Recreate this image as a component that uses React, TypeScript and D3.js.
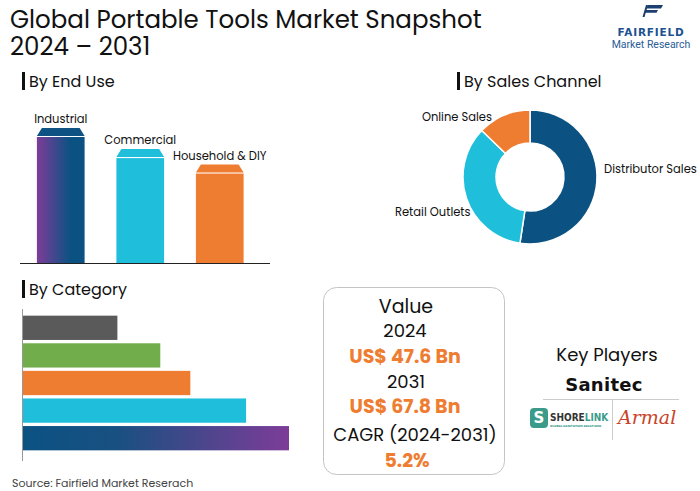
import React from "react";
import * as d3 from "d3";

const endUseCats = ["Industrial", "Commercial", "Household & DIY"];
const endUseValues = [48, 40.5, 35];
const endUseColors = ["url(#gradInd)", "#1fbfdc", "#ee7d31"];
const endUseCapColors = ["#0d5282", "#1fbfdc", "#ee7d31"];

const channelCats = ["Distributor Sales", "Retail Outlets", "Online Sales"];
const channelValues = [52.4, 34.8, 12.8];
const channelColors = ["#0b5283", "#1fbfdc", "#ee7d31"];

const categoryValues = [22, 32, 39, 52, 62];
const categoryColors = ["#5a5a5a", "#72ad4c", "#ee7d31", "#1fbfdc", "url(#gradCat)"];

const titleLines = ["Global Portable Tools Market Snapshot", "2024 – 2031"];

const valueLines = [
  { text: "Value", kind: "label" },
  { text: "2024", kind: "label" },
  { text: "US$ 47.6 Bn", kind: "value" },
  { text: "2031", kind: "label" },
  { text: "US$ 67.8 Bn", kind: "value" },
  { text: "CAGR (2024-2031)", kind: "label" },
  { text: "5.2%", kind: "value" },
];

const FONT = "Poppins, Inter, 'Open Sans', sans-serif";

export default function App() {
  // End use bars
  const xEU = d3.scaleBand<string>().domain(endUseCats).range([21, 259.5]).paddingInner(0.4).paddingOuter(0.2);
  const yEU = d3.scaleLinear().domain([0, 48]).range([263, 128]);
  const capH = 8;
  const inset = 5;

  // donut
  const pie = d3.pie<number>().sort(null).startAngle(0).endAngle(2 * Math.PI);
  const arcs = pie(channelValues);
  const arcGen = d3.arc<d3.PieArcDatum<number>>().innerRadius(34).outerRadius(67);
  const cx = 530, cy = 177;
  const labelPos = [
    { x: 604, y: 173, anchor: "start" },
    { x: 395, y: 216, anchor: "start" },
    { x: 492, y: 121, anchor: "end" },
  ];

  // category bars
  const yCat = d3.scaleBand<number>().domain(d3.range(categoryValues.length)).range([314, 452]).paddingInner(0.12).paddingOuter(0.06);
  const xCat = d3.scaleLinear().domain([0, 62]).range([23, 289]);

  const valueY = [313, 337, 363, 388, 413, 441, 467];
  const valueX = [406, 405, 405, 406, 405, 415, 407];
  const valueSize = [19, 18, 19, 18, 19, 18, 19];

  return (
    <svg width={700} height={491} style={{ position: "absolute", left: 0, top: 0, background: "#fff" }} fontFamily={FONT}>
      <defs>
        <linearGradient id="gradInd" x1="0" x2="1" y1="0" y2="0">
          <stop offset="0" stopColor="#7d3c98" />
          <stop offset="0.7" stopColor="#0b5283" />
          <stop offset="1" stopColor="#0b5283" />
        </linearGradient>
        <linearGradient id="gradCat" x1="0" x2="1" y1="0" y2="0">
          <stop offset="0" stopColor="#0b5283" />
          <stop offset="0.35" stopColor="#185081" />
          <stop offset="1" stopColor="#7d3c98" />
        </linearGradient>
      </defs>
      <rect x={0} y={0} width={700} height={491} fill="#fff" />

      {/* Title */}
      <text fontSize={24.5} fill="#111">
        {titleLines.map((t, i) => (
          <tspan key={i} x={10} y={28 + i * 27}>{t}</tspan>
        ))}
      </text>

      {/* Logo */}
      <g fill="#1b3f6e">
        <path d="M648,5 L663,5 L661,8.5 L646,8.5 Z" />
        <path d="M645.5,10 L658,10 L656.5,12.8 L644.5,12.8 Z" />
        <path d="M646,5 L648,5 L644.5,17 L642.5,17 Z" />
      </g>
      <text x={651} y={36} fontSize={10.5} fontWeight={700} fill="#1d5190" textAnchor="middle" letterSpacing={0.8} fontFamily="'DejaVu Sans', sans-serif">FAIRFIELD</text>
      <text x={651} y={47.5} fontSize={10.5} fill="#2a5d95" textAnchor="middle" fontFamily="Roboto, sans-serif">Market Research</text>

      {/* Section headers */}
      <rect x={22} y={72} width={3} height={18} fill="#111" />
      <text x={29} y={87} fontSize={16} fill="#111">By End Use</text>
      <rect x={457} y={72} width={3} height={18} fill="#111" />
      <text x={464} y={87} fontSize={16} fill="#111">By Sales Channel</text>
      <rect x={22} y={280} width={3} height={18} fill="#111" />
      <text x={29} y={295} fontSize={16} fill="#111">By Category</text>

      {/* End use bars */}
      {endUseCats.map((c, i) => {
        const x0 = xEU(c)!;
        const w = xEU.bandwidth();
        const top = yEU(endUseValues[i]);
        const bodyTop = top + capH + 1;
        return (
          <g key={c}>
            <rect x={x0} y={bodyTop} width={w} height={263 - bodyTop} fill={endUseColors[i]} />
            <path d={`M${x0},${top + capH} L${x0 + inset},${top} L${x0 + w - inset},${top} L${x0 + w},${top + capH} Z`} fill={endUseCapColors[i]} />
            <text x={x0 + w / 2} y={top - 5} fontSize={11.5} textAnchor="middle" fill="#111">{c}</text>
          </g>
        );
      })}
      <line x1={20} x2={270} y1={263.5} y2={263.5} stroke="#222" strokeWidth={1} />

      {/* Donut */}
      <g transform={`translate(${cx},${cy})`}>
        {arcs.map((a, i) => (
          <path key={i} d={arcGen(a)!} fill={channelColors[i]} stroke="#fff" strokeWidth={1.5} />
        ))}
      </g>
      {channelCats.map((c, i) => (
        <text key={c} x={labelPos[i].x} y={labelPos[i].y} fontSize={11.5} textAnchor={labelPos[i].anchor as any} fill="#111">{c}</text>
      ))}

      {/* Category bars */}
      <line x1={22.5} x2={22.5} y1={309} y2={461} stroke="#999" strokeWidth={1} />
      {categoryValues.map((v, i) => (
        <rect key={i} x={xCat(0)} y={yCat(i)!} width={xCat(v) - xCat(0)} height={yCat.bandwidth()} fill={categoryColors[i]} />
      ))}

      <text x={12} y={487} fontSize={11} fill="#444">Source: Fairfield Market Reserach</text>

      {/* Value box */}
      <rect x={323.5} y={287.5} width={181} height={187} rx={13} fill="none" stroke="#c4c4c4" strokeWidth={1} />
      {valueLines.map((l, i) => (
        <text key={i} x={valueX[i]} y={valueY[i]} fontSize={valueSize[i]} textAnchor="middle"
          fontWeight={l.kind === "value" ? 700 : 400} fill={l.kind === "value" ? "#ee7d31" : "#111"}>{l.text}</text>
      ))}

      {/* Key players */}
      <text x={607} y={361} fontSize={18} textAnchor="middle" fill="#111">Key Players</text>
      <text x={604} y={391} fontSize={18} fontWeight={800} textAnchor="middle" fill="#111" fontFamily="'DejaVu Sans', sans-serif" letterSpacing={0.3}>Sanitec</text>
      <line x1={543} x2={679} y1={399.5} y2={399.5} stroke="#ccc" strokeWidth={1} />
      <line x1={612.5} x2={612.5} y1={399} y2={440} stroke="#ccc" strokeWidth={1} />
      <rect x={530} y={408} width={18} height={20} rx={4} fill="#3b9b8b" />
      <text x={539} y={423} fontSize={15} fontWeight={800} textAnchor="middle" fill="#fff" fontFamily="'DejaVu Sans', sans-serif">S</text>
      <text x={550} y={421} fontSize={10} fontWeight={800} fill="#333" fontFamily="'Liberation Sans Narrow', 'DejaVu Sans Condensed', sans-serif">SHORE<tspan fill="#3b9b8b">LINK</tspan></text>
      <text x={550} y={426.5} fontSize={3.2} fill="#3b9b8b" fontWeight={700}>GLOBAL SANITATION SOLUTIONS</text>
      <text x={618} y={424} fontSize={19} fontStyle="italic" fill="#c9432a" fontFamily="'DejaVu Serif', serif">Armal</text>
    </svg>
  );
}
